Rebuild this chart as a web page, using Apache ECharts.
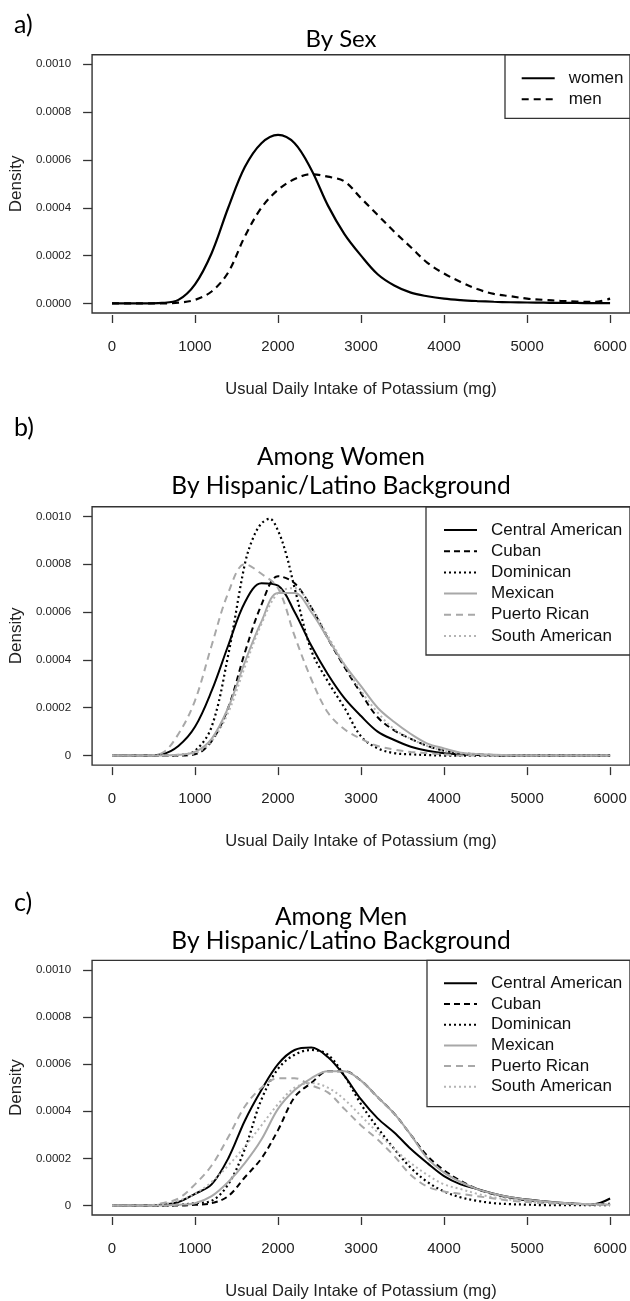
<!DOCTYPE html>
<html><head><meta charset="utf-8">
<script src="https://cdn.jsdelivr.net/npm/echarts@6/dist/echarts.min.js"></script>
<style>html,body{margin:0;padding:0;background:#fff}#c{width:630px;height:1301px}</style>
</head><body><div id="c"></div>
<script>
// ---------- data ----------
const xValues = [0,200,400,600,800,1000,1200,1400,1600,1800,2000,2200,2400,2600,2800,3000,3200,3400,3600,3800,4000,4200,4400,4600,4800,5000,5200,5400,5600,5800,6000];
const xTicks = [0,1000,2000,3000,4000,5000,6000];
const yTicks = [0,0.0002,0.0004,0.0006,0.0008,0.001];

// panel a
const sexNames = ['women','men'];
const women = [0,0,0,0.000002,0.000015,0.00008,0.00021,0.0004,0.00057,0.00067,0.000705,0.00067,0.00056,0.00041,0.00029,0.0002,0.000122,0.000075,0.000045,0.00003,0.00002,0.000014,0.00001,0.000007,0.000005,0.000004,0.000003,0.000002,0.000002,0.000001,0.000001];
const men = [0,0,0,0,0.000003,0.000015,0.00005,0.00013,0.00028,0.0004,0.000475,0.00052,0.00054,0.00053,0.00051,0.00044,0.00037,0.0003,0.000235,0.00017,0.000125,0.00009,0.00006,0.00004,0.00003,0.00002,0.000015,0.000011,0.000008,0.000006,0.00002];

// panels b and c
const groupNames = ['Central American','Cuban','Dominican','Mexican','Puerto Rican','South American'];

const womenCentralAmerican = [0,0,0,0.000005,0.00004,0.00012,0.00027,0.00046,0.00064,0.00072,0.00071,0.0006,0.00046,0.00034,0.00024,0.000165,0.0001,0.000065,0.000037,0.00002,0.00001,0.000005,0.000002,0.000001,0,0,0,0,0,0,0];
const womenCuban = [0,0,0,0,0,0.000005,0.00006,0.0002,0.00043,0.00063,0.00075,0.00072,0.00062,0.00049,0.00037,0.00026,0.00016,0.000105,0.00007,0.00004,0.00002,0.00001,0.000005,0.000002,0,0,0,0,0,0,0];
// Dominican women has a sharp peak, so it is sampled more finely around the mode
const womenDominicanX = [0,200,400,600,800,1000,1200,1400,1600,1700,1800,1900,2000,2100,2200,2400,2600,2800,3000,3200,3400,3600,3800,4000,4400,5000,6000];
const womenDominican = [0,0,0,0,0.000002,0.00002,0.00012,0.00042,0.0008,0.00091,0.00097,0.00099,0.00094,0.00084,0.0007,0.00044,0.00031,0.0002,0.00008,0.00003,0.00001,0.000005,0.000002,0,0,0,0];
const womenMexican = [0,0,0,0,0.000003,0.000015,0.00007,0.0002,0.00039,0.00056,0.00068,0.00068,0.0006,0.00049,0.00038,0.00029,0.0002,0.00014,0.00009,0.00005,0.00003,0.000012,0.000006,0.000003,0.000001,0,0,0,0,0,0];
const womenPuertoRican = [0,0,0,0.00001,0.00009,0.00023,0.00046,0.00068,0.0008,0.00076,0.0007,0.0005,0.00032,0.00018,0.00011,0.00007,0.00004,0.000025,0.000015,0.00001,0.000005,0,0,0,0,0,0,0,0,0,0];
const womenSouthAmerican = [0,0,0,0,0.000003,0.00001,0.00006,0.00018,0.00037,0.00055,0.00068,0.0007,0.00062,0.0005,0.00038,0.00027,0.00018,0.00011,0.00007,0.00004,0.00002,0.00001,0.000005,0,0,0,0,0,0,0,0];

const menCentralAmerican = [0,0,0,0.000003,0.000015,0.00005,0.00009,0.0002,0.00036,0.00049,0.0006,0.00066,0.00067,0.00063,0.00055,0.00045,0.00037,0.00031,0.00024,0.00018,0.000125,0.00009,0.00007,0.00005,0.000035,0.000026,0.000018,0.000012,0.000008,0.000006,0.00003];
const menCuban = [0,0,0,0,0,0.000003,0.00001,0.00004,0.00012,0.0002,0.00032,0.00046,0.00052,0.00057,0.00057,0.00053,0.00046,0.00039,0.0003,0.00021,0.00015,0.000105,0.00007,0.000048,0.000033,0.000022,0.000015,0.00001,0.000007,0.000005,0.000008];
const menDominican = [0,0,0,0,0.000003,0.00001,0.00002,0.00009,0.00024,0.00045,0.00058,0.00064,0.00066,0.00064,0.00055,0.00043,0.00033,0.00024,0.00016,0.0001,0.00006,0.000035,0.00002,0.00001,0.000006,0.000004,0.000002,0.000002,0.000002,0.000002,0.000002];
const menMexican = [0,0,0,0,0.000003,0.00001,0.00004,0.0001,0.00018,0.00028,0.00041,0.00049,0.00054,0.00057,0.00057,0.00053,0.00046,0.00039,0.0003,0.0002,0.00014,0.0001,0.00007,0.00005,0.000035,0.000025,0.000018,0.000012,0.000008,0.000006,0.000004];
const menPuertoRican = [0,0,0,0.00001,0.00003,0.00009,0.00017,0.00029,0.00042,0.0005,0.00054,0.00054,0.00051,0.00048,0.00041,0.00034,0.00028,0.00021,0.00013,0.00008,0.00006,0.00005,0.00004,0.00003,0.00002,0.000015,0.00001,0.000008,0.000006,0.000004,0.000003];
const menSouthAmerican = [0,0,0,0.000005,0.00002,0.00005,0.0001,0.00017,0.00025,0.00034,0.00043,0.0005,0.00052,0.0005,0.00045,0.00038,0.00031,0.00024,0.00018,0.00013,0.00009,0.00007,0.00005,0.000035,0.000025,0.000018,0.000013,0.00001,0.000007,0.000005,0.000004];

const womenGroups = [womenCentralAmerican,womenCuban,womenDominican,womenMexican,womenPuertoRican,womenSouthAmerican];
const womenGroupsX = [xValues,xValues,womenDominicanX,xValues,xValues,xValues];
const menGroups = [menCentralAmerican,menCuban,menDominican,menMexican,menPuertoRican,menSouthAmerican];

// ---------- styles ----------
const AX = '#333';
const FONT = '"Liberation Sans", Arial, sans-serif';
const TFONT = 'Lato, "Open Sans", sans-serif';
const BLACK = '#000', GRAY = '#a8a8a8';
const groupStyles = [
  {color: BLACK, type: 'solid', width: 2},
  {color: BLACK, type: [6,4], width: 2},
  {color: BLACK, type: [2,3], width: 2.2},
  {color: GRAY, type: 'solid', width: 2},
  {color: GRAY, type: [7,5], width: 2},
  {color: '#b4b4b4', type: [2,3], width: 2}
];
const sexStyles = [
  {color: BLACK, type: 'solid', width: 2.2},
  {color: BLACK, type: [7,5], width: 2.2}
];

const GL = 91.6, GW = 540, GH = 258.3;
const gridTops = [54.7, 506.8, 960.4];

const grids = gridTops.map(t => ({left: GL, top: t, width: GW, height: GH, show: true, borderColor: AX, borderWidth: 1.4, backgroundColor: 'transparent'}));

const xAxes = gridTops.map((t, i) => ({
  type: 'value', gridIndex: i, min: -240, max: 6240,
  position: 'bottom', offset: 2,
  axisLine: {show: false, onZero: false},
  splitLine: {show: false},
  axisTick: {show: true, length: 8, customValues: xTicks, lineStyle: {color: AX, width: 1.3}},
  axisLabel: {customValues: xTicks, margin: 24, fontSize: 15, fontFamily: FONT, color: '#222', formatter: v => String(v)},
  name: 'Usual Daily Intake of Potassium (mg)', nameLocation: 'middle', nameGap: 66,
  nameTextStyle: {fontSize: 16.5, fontFamily: FONT, color: '#222'}
}));

const yAxes = gridTops.map((t, i) => ({
  type: 'value', gridIndex: i, min: -0.00004, max: 0.00104,
  position: 'left',
  axisLine: {show: false, onZero: false},
  splitLine: {show: false},
  axisTick: {show: true, length: 9, customValues: yTicks, lineStyle: {color: AX, width: 1.3}},
  axisLabel: {customValues: yTicks, margin: 21, fontSize: 11.5, fontFamily: FONT, color: '#222',
    formatter: v => (i > 0 && Math.abs(v) < 1e-12) ? '0' : v.toFixed(4)},
  name: 'Density', nameLocation: 'middle', nameGap: 64, nameRotate: 90,
  nameTextStyle: {fontSize: 17, fontFamily: FONT, color: '#222'}
}));

const toPairs = (xs, arr) => xs.map((x, k) => [x, arr[k]]);
const mk = (name, xs, arr, st, gi) => ({
  type: 'line', name, xAxisIndex: gi, yAxisIndex: gi, data: toPairs(xs, arr),
  showSymbol: false, symbol: 'none', smooth: 0.35, silent: true,
  lineStyle: {color: st.color, type: st.type, width: st.width},
  itemStyle: {color: st.color}
});

const series = [];
series.push(mk(sexNames[0], xValues, women, sexStyles[0], 0));
series.push(mk(sexNames[1], xValues, men, sexStyles[1], 0));
groupNames.forEach((n, k) => series.push(mk(n, womenGroupsX[k], womenGroups[k], groupStyles[k], 1)));
groupNames.forEach((n, k) => series.push(mk(n, xValues, menGroups[k], groupStyles[k], 2)));

const legendBase = {orient: 'vertical', selectedMode: false, itemWidth: 33, itemHeight: 17, padding: 0,
  itemStyle: {opacity: 0},
  textStyle: {fontSize: 17, fontFamily: FONT, color: '#111', padding: [0, 0, 0, 9]}};
const legends = [
  Object.assign({}, legendBase, {data: sexNames, left: 520.7, top: 69.8, itemGap: 4}),
  Object.assign({}, legendBase, {data: groupNames, left: 443, top: 521.5, itemGap: 4.2}),
  Object.assign({}, legendBase, {data: groupNames, left: 443, top: 974.8, itemGap: 3.7})
];

const titleStyle = (fs) => ({fontSize: fs, fontFamily: TFONT, fontWeight: 'normal', color: '#000'});
const titles = [
  {text: 'a)', left: 14, top: 12, padding: 0, textStyle: titleStyle(25)},
  {text: 'By Sex', left: 341, top: 27, textAlign: 'center', padding: 0, textStyle: titleStyle(24)},
  {text: 'b)', left: 14, top: 415, padding: 0, textStyle: titleStyle(25)},
  {text: 'Among Women', left: 341, top: 445, textAlign: 'center', padding: 0, textStyle: titleStyle(24.5)},
  {text: 'By Hispanic/Latino Background', left: 341, top: 474, textAlign: 'center', padding: 0, textStyle: titleStyle(24.5)},
  {text: 'c)', left: 14, top: 890, padding: 0, textStyle: titleStyle(25)},
  {text: 'Among Men', left: 341, top: 905, textAlign: 'center', padding: 0, textStyle: titleStyle(24.5)},
  {text: 'By Hispanic/Latino Background', left: 341, top: 929, textAlign: 'center', padding: 0, textStyle: titleStyle(24.5)}
];

const boxStyle = {fill: 'none', stroke: AX, lineWidth: 1.3};
const graphics = [
  {type: 'rect', shape: {x: 505, y: 54.7, width: 140, height: 63.6}, style: boxStyle, silent: true},
  {type: 'rect', shape: {x: 426, y: 506.8, width: 220, height: 148.2}, style: boxStyle, silent: true},
  {type: 'rect', shape: {x: 427, y: 960.4, width: 220, height: 146.3}, style: boxStyle, silent: true}
];

const chart = echarts.init(document.getElementById('c'), null, {renderer: 'canvas'});
chart.setOption({
  animation: false,
  backgroundColor: '#fff',
  title: titles,
  grid: grids,
  xAxis: xAxes,
  yAxis: yAxes,
  legend: legends,
  graphic: graphics,
  series: series
});
</script></body></html>
